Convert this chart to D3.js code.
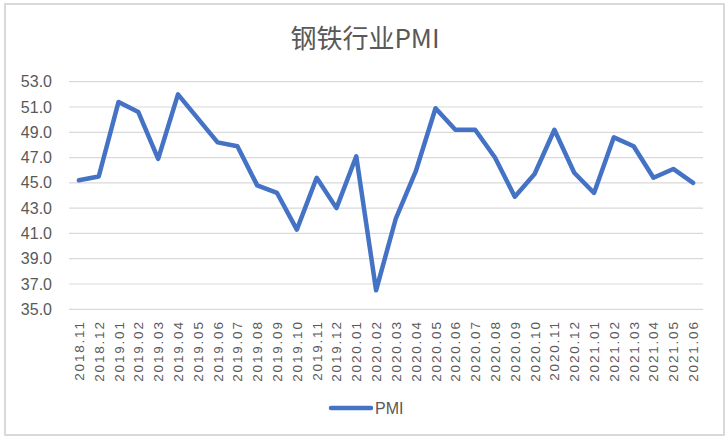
<!DOCTYPE html>
<html><head><meta charset="utf-8">
<script src="https://cdn.jsdelivr.net/npm/d3@7"></script>
<style>body{margin:0;background:#fff}</style>
</head><body>
<script>
const months = ["2018.11","2018.12","2019.01","2019.02","2019.03","2019.04","2019.05","2019.06","2019.07","2019.08","2019.09","2019.10","2019.11","2019.12","2020.01","2020.02","2020.03","2020.04","2020.05","2020.06","2020.07","2020.08","2020.09","2020.10","2020.11","2020.12","2021.01","2021.02","2021.03","2021.04","2021.05","2021.06"];
const pmi = [45.2,45.5,51.4,50.6,46.9,52.0,50.1,48.2,47.9,44.8,44.2,41.3,45.4,43.0,47.1,36.5,42.2,45.9,50.9,49.2,49.2,47.0,43.9,45.7,49.2,45.8,44.2,48.6,47.9,45.4,46.1,45.0];
const yTicks = [35,37,39,41,43,45,47,49,51,53];
const title = "钢铁行业PMI";
const seriesName = "PMI";

const W = 728, H = 441;
const svg = d3.select("body").append("svg").attr("width", W).attr("height", H);
svg.append("rect").attr("x",5).attr("y",4).attr("width",719).attr("height",431)
  .attr("fill","#fff").attr("stroke","#d9d9d9").attr("stroke-width",2);

const pL = 69, pR = 703, pT = 81.7, pB = 309.3;
const x = d3.scaleBand().domain(months).range([pL, pR]);
const y = d3.scaleLinear().domain([35, 53]).range([pB, pT]);
const txt = "#595959";

svg.append("text").attr("x", 365).attr("y", 48).attr("text-anchor","middle")
  .attr("font-family","'Noto Sans CJK SC', sans-serif").attr("font-size",26)
  .attr("fill", txt).text(title);

// grid
svg.append("g").selectAll("line").data(yTicks).join("line")
  .attr("x1", pL).attr("x2", pR)
  .attr("y1", d => y(d)).attr("y2", d => y(d))
  .attr("stroke","#d9d9d9").attr("stroke-width",1.2);

// y labels
const yAxis = d3.axisLeft(y).tickValues(yTicks).tickFormat(d3.format(".1f")).tickSize(0).tickPadding(17);
const gy = svg.append("g").attr("transform", `translate(${pL},0)`).call(yAxis);
gy.select(".domain").remove();
gy.selectAll("text").attr("font-family","'Liberation Sans', sans-serif").attr("font-size",16).attr("fill",txt);

// x labels
const xAxis = d3.axisBottom(x).tickSize(0).tickPadding(0);
const gx = svg.append("g").attr("transform", `translate(0,${pB})`).call(xAxis);
gx.select(".domain").remove();
gx.selectAll("text")
  .attr("font-family","'Liberation Sans', sans-serif").attr("font-size",13.5)
  .attr("letter-spacing", 1.8)
  .attr("fill",txt)
  .attr("text-anchor","end")
  .attr("dy", null)
  .attr("transform","translate(5,11) rotate(-90)");

// line
const line = d3.line().x((d,i) => x(months[i]) + x.bandwidth()/2).y(d => y(d));
svg.append("path").datum(pmi).attr("d", line).attr("fill","none")
  .attr("stroke","#4472C4").attr("stroke-width",4.5).attr("stroke-linejoin","round").attr("stroke-linecap","round");

// legend
svg.append("line").attr("x1",331).attr("x2",371).attr("y1",408).attr("y2",408)
  .attr("stroke","#4472C4").attr("stroke-width",4.5).attr("stroke-linecap","round");
svg.append("text").attr("x",375).attr("y",414).attr("font-family","'Liberation Sans', sans-serif")
  .attr("font-size",16).attr("fill",txt).text(seriesName);
</script>
</body></html>
